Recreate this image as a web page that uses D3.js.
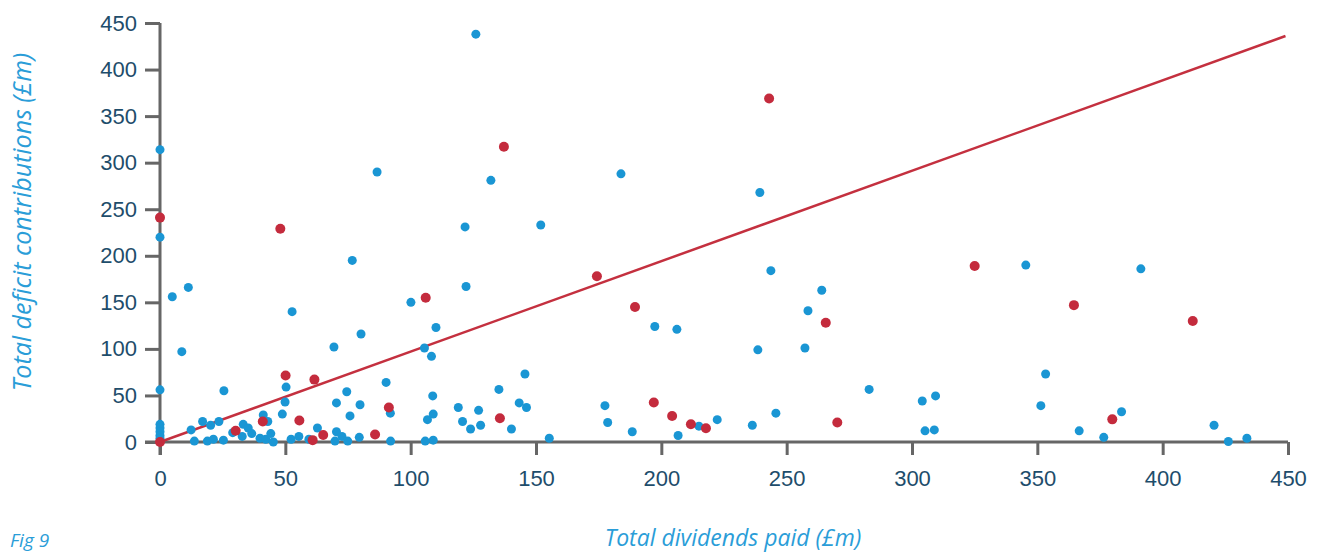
<!DOCTYPE html>
<html>
<head>
<meta charset="utf-8">
<script src="https://cdn.jsdelivr.net/npm/d3@7"></script>
<style>
  body { margin: 0; background: #fff; }
  svg { display: block; font-family: "Open Sans", "Noto Sans", sans-serif; }
  .tick text { fill: #1e4d6b; font-size: 22px; }
  .tick line { stroke: #666; stroke-width: 3; }
  .axis-title { fill: #2a9dd8; font-style: italic; font-size: 23px; }
</style>
</head>
<body>
<svg id="chart"></svg>
<script>
// tick labels
const xTicks = [0, 50, 100, 150, 200, 250, 300, 350, 400, 450];
const yTicks = [0, 50, 100, 150, 200, 250, 300, 350, 400, 450];

// [dividends, deficit contributions] in £m
const bluePoints = [
  [126, 438], [0, 314], [86.6, 290], [183.9, 288], [132, 281], [239.3, 268],
  [151.9, 233], [121.7, 231], [0, 220], [76.7, 195], [345.4, 190], [391.3, 186],
  [243.7, 184], [11.3, 166], [122.1, 167], [264, 163], [4.9, 156], [100.1, 150],
  [258.5, 141], [52.7, 140], [110.1, 123], [197.4, 124], [206.2, 121], [80.2, 116],
  [69.4, 102], [105.5, 101], [257.3, 101], [8.7, 97], [238.5, 99], [108.3, 92],
  [0, 56], [0, 19], [0, 15], [0, 11], [0, 7], [0, 4],
  [25.5, 55], [12.4, 13], [13.7, 1], [17, 22], [20.2, 18], [18.9, 1], [21.3, 3],
  [23.5, 22], [25.3, 2], [29, 10], [32.8, 6], [33.2, 19], [35.2, 15], [36.6, 9],
  [39.9, 4], [41.2, 29], [43, 22], [42.2, 3], [44.2, 9], [45.2, 0], [48.8, 30],
  [49.9, 43], [50.3, 59], [52.3, 3], [55.4, 6], [62.8, 15], [59.4, 3], [70.4, 42],
  [74.5, 54], [75.8, 28], [79.8, 40], [70.4, 11], [72.6, 6], [69.8, 1], [74.9, 1],
  [79.5, 5], [90.2, 64], [91.9, 31], [92, 1],
  [105.8, 1], [106.7, 24], [108.8, 49.5], [109, 30], [109, 2], [119, 37],
  [120.7, 22], [123.9, 14], [127.1, 34], [127.9, 18], [135.2, 56.5], [140.2, 14],
  [145.6, 73], [143.3, 42], [146.2, 37], [155.3, 4], [177.5, 39], [178.6, 21],
  [188.4, 11], [206.7, 7], [215, 17], [222.3, 24], [236.3, 18], [245.7, 31],
  [282.9, 56.5], [304.1, 44], [309.4, 49.5], [305.2, 12], [308.9, 13], [353.3, 73],
  [351.4, 39], [366.7, 12], [376.5, 5], [383.6, 32.5], [420.5, 18], [426.2, 0.5],
  [433.6, 4]
];

const redPoints = [
  [243, 369], [137.2, 317], [0, 241], [48, 229], [174.3, 178], [325, 189],
  [106, 155], [364.6, 147], [189.5, 145], [412, 130], [265.6, 128], [50.1, 71.5],
  [61.6, 67], [0, 0], [30.2, 12], [41, 22], [55.6, 23], [60.9, 2], [65.1, 7.5],
  [85.8, 8], [91.3, 37], [135.6, 25.5], [197, 42.5], [204.3, 28], [211.8, 19],
  [217.8, 14.7], [270.2, 21], [379.9, 24.3]
];

// red reference line, start and end
const trendLine = [[0, 0], [449, 436]];

const margin = {top: 23, right: 36, bottom: 111, left: 160},
  width = 1324 - margin.left - margin.right,
  height = 553 - margin.top - margin.bottom;

const x = d3.scaleLinear().domain([0, 450]).range([0, width]);
const y = d3.scaleLinear().domain([0, 450]).range([height, 0]);

const svg = d3.select("#chart")
  .attr("width", 1324)
  .attr("height", 553);

const g = svg.append("g")
  .attr("transform", "translate(" + margin.left + "," + margin.top + ")");

// Y axis
const yAxis = g.append("g")
  .call(d3.axisLeft(y).tickValues(yTicks).tickSize(15).tickPadding(8));
yAxis.select(".domain").remove();
yAxis.selectAll(".tick text").attr("font-size", null).attr("font-family", null);

// X axis
const xAxis = g.append("g")
  .attr("transform", "translate(0," + height + ")")
  .call(d3.axisBottom(x).tickValues(xTicks).tickSize(13).tickPadding(15));
xAxis.select(".domain").remove();
xAxis.selectAll(".tick text").attr("font-size", null).attr("font-family", null);

// axis lines
g.append("line")
  .attr("x1", 0).attr("x2", 0)
  .attr("y1", 0).attr("y2", height + 13)
  .attr("stroke", "#666").attr("stroke-width", 3);
g.append("line")
  .attr("x1", -15).attr("x2", width)
  .attr("y1", height).attr("y2", height)
  .attr("stroke", "#666").attr("stroke-width", 3);

// reference line
g.append("path")
  .datum(trendLine)
  .attr("fill", "none")
  .attr("stroke", "#c4303f")
  .attr("stroke-width", 2.5)
  .attr("d", d3.line().x(d => x(d[0])).y(d => y(d[1])));

// dots
g.append("g").selectAll("circle")
  .data(bluePoints)
  .join("circle")
  .attr("cx", d => x(d[0]))
  .attr("cy", d => y(d[1]))
  .attr("r", 4.5)
  .attr("fill", "#1a96d4");

g.append("g").selectAll("circle")
  .data(redPoints)
  .join("circle")
  .attr("cx", d => x(d[0]))
  .attr("cy", d => y(d[1]))
  .attr("r", 5)
  .attr("fill", "#c42b3d");

// titles
svg.append("text")
  .attr("class", "axis-title")
  .attr("transform", "translate(22," + 222 + ") rotate(-90)")
  .attr("text-anchor", "middle")
  .attr("dy", "0.35em")
  .style("font-size", "25px")
  .text("Total deficit contributions (£m)");

svg.append("text")
  .attr("class", "axis-title")
  .attr("x", 733)
  .attr("y", 546)
  .attr("text-anchor", "middle")
  .text("Total dividends paid (£m)");

svg.append("text")
  .attr("class", "axis-title")
  .attr("x", 10)
  .attr("y", 547)
  .style("font-size", "19px")
  .text("Fig 9");
</script>
</body>
</html>
